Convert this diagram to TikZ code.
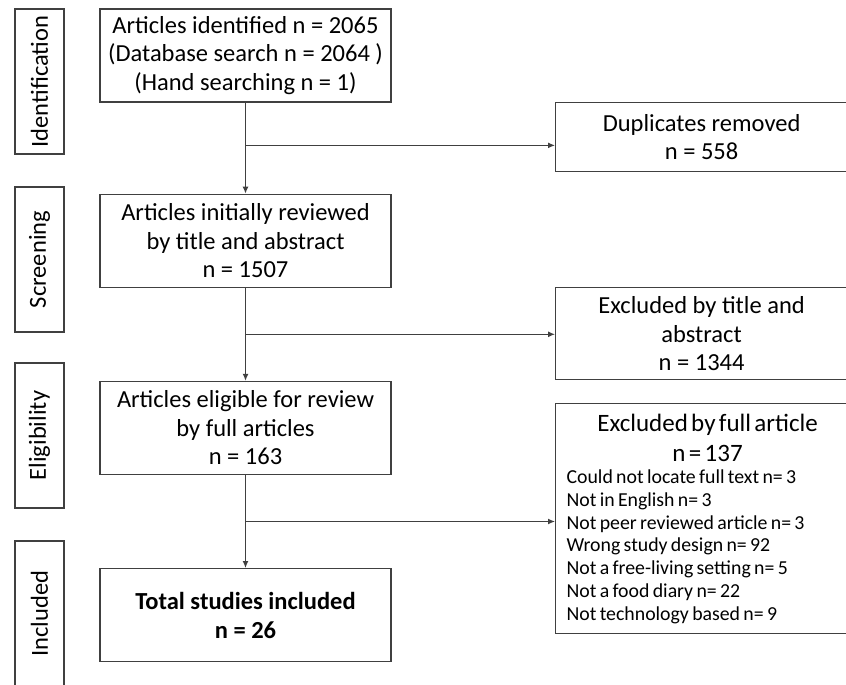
\documentclass[tikz,border=0pt]{standalone}
\usepackage{fontspec}
\setmainfont{Carlito}
\usetikzlibrary{positioning,calc,arrows.meta}

\begin{document}
\begin{tikzpicture}[
        x=1pt, y=-1pt,
        line width=1.2pt,
        box/.style={draw=black!75, align=center, minimum width=291pt, minimum height=93pt, inner sep=0pt, font=\fontsize{24.5}{28.5}\selectfont},
        sidebox/.style={draw=black!75, align=center, minimum width=292pt, inner sep=0pt, font=\fontsize{24.5}{28.5}\selectfont},
        stage/.style={draw=black!75, rotate=90, minimum width=145pt, minimum height=49pt, inner sep=0pt, font=\fontsize{24.5}{26}\selectfont},
        arr/.style={-{Latex[length=7pt, width=6pt]}, draw=black!75}
      ]
      \useasboundingbox (0,0) rectangle (846,685);

      \node (tid) [stage] at (39.5,81.5) {Identification};
      \node (tscr) [stage] at (39.5,259.5) {Screening};
      \node (telig) [stage] at (39.5,435.5) {Eligibility};
      \node (tincl) [stage] at (39.5,613.5) {Included};

      \node (idf) [box] at (245.5,55.5) {Articles identified n = 2065\\(Database search n = 2064~)\\(Hand searching n = 1)};
      \node (scr) [box, below=91pt of idf] {Articles initially reviewed\\by title and abstract\\n = 1507};
      \node (elig) [box, node distance=93pt, below=of scr] {Articles eligible for review\\by full articles\\n = 163};
      \node (incl) [box, node distance=93pt, below=of elig, font=\fontsize{24.5}{29}\selectfont\bfseries] {Total studies included\\n = 26};

      \node (dup) [sidebox, minimum height=69pt, anchor=north west] at (555,102) {Duplicates removed\\n = 558};
      \node (extab) [sidebox, minimum height=92pt, anchor=north west] at (555,287) {Excluded by title and\\abstract\\n = 1344};
      \node (exfull) [draw=black!75, text width=270pt, inner xsep=11pt, inner ysep=0pt, minimum height=230pt, anchor=north west] at (555,403) {%
        {\fontsize{25}{30}\selectfont\centering\hspace*{12pt}Excluded by full article\\\hspace*{12pt}n = 137\par}
        {\fontsize{19.8}{22.7}\selectfont\raggedright Could not locate full text n= 3\\Not in English n= 3\\Not peer reviewed article n= 3\\Wrong study design n= 92\\Not a free-living setting n= 5\\Not a food diary n= 22\\Not technology based n= 9\par}};

      \coordinate (b1) at ($(idf.south)!0.47!(scr.north)$);
      \coordinate (b2) at ($(scr.south)!0.5!(elig.north)$);
      \coordinate (b3) at ($(elig.south)!0.5!(incl.north)$);

      \draw[arr] (idf) -- (scr);
      \draw[arr] (scr) -- (elig);
      \draw[arr] (elig) -- (incl);
      \draw[arr] (b1) -- (b1 -| dup.west);
      \draw[arr] (b2) -- (b2 -| extab.west);
      \draw[arr] (b3) -- (b3 -| exfull.west);

    \end{tikzpicture}
\end{document}
